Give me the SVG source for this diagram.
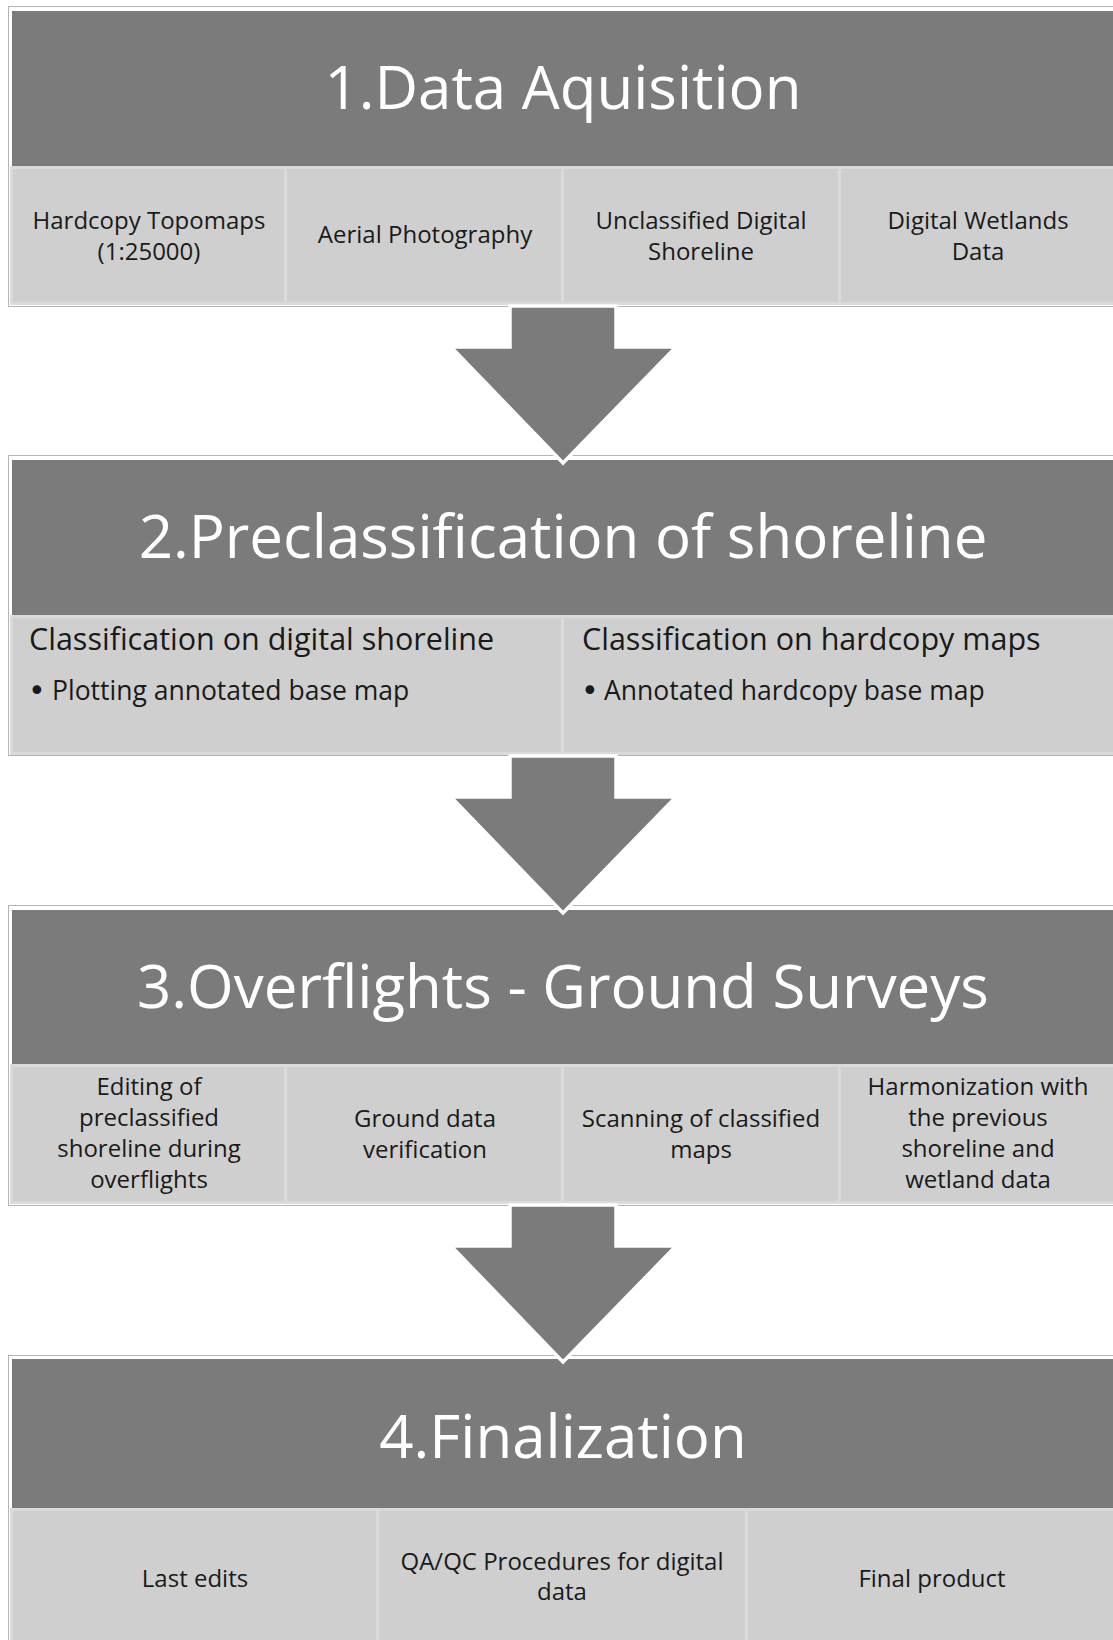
<svg xmlns="http://www.w3.org/2000/svg" width="1113" height="1640" viewBox="0 0 1113 1640">
  <style>
    .frame { fill: none; stroke: #b4b4b4; stroke-width: 1; }
    .head { fill: #7b7b7b; }
    .cell { fill: #cfcfcf; stroke: #dadada; stroke-width: 3; }
    .title { font-family: "Open Sans", "Liberation Sans", sans-serif; font-size: 60px; fill: #ffffff; text-anchor: middle; }
    .txt { font-family: "Open Sans", "Liberation Sans", sans-serif; font-size: 24px; fill: #1a1a1a; text-anchor: middle; }
    .sub { font-family: "Open Sans", "Liberation Sans", sans-serif; font-size: 30.5px; fill: #1a1a1a; }
    .bul { font-family: "Open Sans", "Liberation Sans", sans-serif; font-size: 26.5px; fill: #1a1a1a; }
    .dot { font-family: "DejaVu Sans", sans-serif; font-size: 30px; fill: #1a1a1a; }
    .arrow { fill: #7b7b7b; stroke: #ffffff; stroke-width: 3.5; stroke-linejoin: miter; }
  </style>

  <rect width="1113" height="1640" fill="#ffffff"/>

  <!-- Stage 1 -->
  <g id="stage1">
    <rect class="frame" x="8.5" y="6.5" width="1120" height="300"/>
    <rect class="head" x="12" y="11" width="1110" height="155"/>
    <rect class="cell" x="11.5" y="167.5" width="274" height="136"/>
    <rect class="cell" x="285.5" y="167.5" width="277" height="136"/>
    <rect class="cell" x="562.5" y="167.5" width="277" height="136"/>
    <rect class="cell" x="839.5" y="167.5" width="280" height="136"/>
    <text class="title" x="563" y="109">1.Data Aquisition</text>
    <text class="txt" x="149" y="229">Hardcopy Topomaps</text>
    <text class="txt" x="149" y="260">(1:25000)</text>
    <text class="txt" x="425" y="243">Aerial Photography</text>
    <text class="txt" x="701" y="229">Unclassified Digital</text>
    <text class="txt" x="701" y="260">Shoreline</text>
    <text class="txt" x="978" y="229">Digital Wetlands</text>
    <text class="txt" x="978" y="260">Data</text>
  </g>

  <!-- Stage 2 -->
  <g id="stage2">
    <rect class="frame" x="8.5" y="455.5" width="1120" height="300"/>
    <rect class="head" x="12" y="460" width="1110" height="155"/>
    <rect class="cell" x="11.5" y="616.5" width="551" height="137"/>
    <rect class="cell" x="562.5" y="616.5" width="557" height="137"/>
    <text class="title" x="563" y="558">2.Preclassification of shoreline</text>
    <text class="sub" x="29" y="650">Classification on digital shoreline</text>
    <text class="dot" x="28" y="701">•</text>
    <text class="bul" x="52" y="700">Plotting annotated base map</text>
    <text class="sub" x="582" y="650">Classification on hardcopy maps</text>
    <text class="dot" x="581" y="701">•</text>
    <text class="bul" x="604" y="700">Annotated hardcopy base map</text>
  </g>

  <!-- Stage 3 -->
  <g id="stage3">
    <rect class="frame" x="8.5" y="905.5" width="1120" height="300"/>
    <rect class="head" x="12" y="910" width="1110" height="154"/>
    <rect class="cell" x="11.5" y="1065.5" width="274" height="137"/>
    <rect class="cell" x="285.5" y="1065.5" width="277" height="137"/>
    <rect class="cell" x="562.5" y="1065.5" width="277" height="137"/>
    <rect class="cell" x="839.5" y="1065.5" width="280" height="137"/>
    <text class="title" x="563" y="1008">3.Overflights - Ground Surveys</text>
    <text class="txt" x="149" y="1095">Editing of</text>
    <text class="txt" x="149" y="1126">preclassified</text>
    <text class="txt" x="149" y="1157">shoreline during</text>
    <text class="txt" x="149" y="1188">overflights</text>
    <text class="txt" x="425" y="1127">Ground data</text>
    <text class="txt" x="425" y="1158">verification</text>
    <text class="txt" x="701" y="1127">Scanning of classified</text>
    <text class="txt" x="701" y="1158">maps</text>
    <text class="txt" x="978" y="1095">Harmonization with</text>
    <text class="txt" x="978" y="1126">the previous</text>
    <text class="txt" x="978" y="1157">shoreline and</text>
    <text class="txt" x="978" y="1188">wetland data</text>
  </g>

  <!-- Stage 4 -->
  <g id="stage4">
    <rect class="frame" x="8.5" y="1355.5" width="1120" height="300"/>
    <rect class="head" x="12" y="1359" width="1110" height="149"/>
    <rect class="cell" x="11.5" y="1509.5" width="366" height="140"/>
    <rect class="cell" x="377.5" y="1509.5" width="369" height="140"/>
    <rect class="cell" x="746.5" y="1509.5" width="373" height="140"/>
    <text class="title" x="563" y="1458">4.Finalization</text>
    <text class="txt" x="195" y="1587">Last edits</text>
    <text class="txt" x="562" y="1570">QA/QC Procedures for digital</text>
    <text class="txt" x="562" y="1600">data</text>
    <text class="txt" x="932" y="1587">Final product</text>
  </g>

  <!-- Block arrows between stages -->
  <g id="connectors">
    <polygon class="arrow" points="510,306 616,306 616,347 676,347 563,463 451,347 510,347"/>
    <polygon class="arrow" points="510,756 616,756 616,797 676,797 563,913 451,797 510,797"/>
    <polygon class="arrow" points="510,1205 616,1205 616,1246 676,1246 563,1362 451,1246 510,1246"/>
  </g>
</svg>
